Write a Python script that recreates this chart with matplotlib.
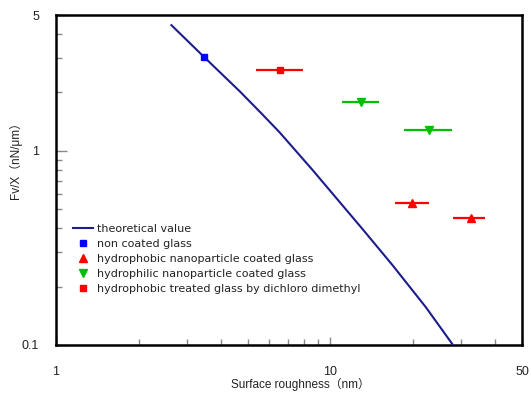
import matplotlib
matplotlib.use("Agg")
import matplotlib.pyplot as plt
from matplotlib.ticker import FixedLocator, NullFormatter

plt.rcParams['font.family'] = ['Liberation Sans', 'Noto Sans CJK JP', 'DejaVu Sans']

# theoretical curve
theory_x = [2.635, 3.462, 4.669, 5.598, 6.524, 8.623, 10.78, 13.11, 16.85, 22.28, 28.02]
theory_y = [4.436, 3.047, 2.029, 1.563, 1.248, 0.796, 0.548, 0.3954, 0.258, 0.1569, 0.1]

# measured points: centre, error bar ends
non_x, non_y = [3.46], [3.03]

phob_x = [19.9, 32.5]
phob_y = [0.540, 0.449]
phob_lo = [17.2, 28.0]
phob_hi = [22.9, 36.6]

phil_x = [12.93, 22.9]
phil_y = [1.775, 1.278]
phil_lo = [10.99, 18.6]
phil_hi = [15.11, 27.9]

dmd_x = [6.58]
dmd_y = [2.60]
dmd_lo = [5.34]
dmd_hi = [7.98]

fig = plt.figure(figsize=(5.31, 3.97), dpi=100)
ax = fig.add_axes([0.1055, 0.131, 0.8775, 0.831])

ax.plot(theory_x, theory_y, color='#1c1c8a', lw=1.5, label='theoretical value', zorder=3)

# error bars
ax.hlines(phob_y, phob_lo, phob_hi, color='#ff0000', lw=1.6, zorder=2)
ax.hlines(phil_y, phil_lo, phil_hi, color='#00c000', lw=1.6, zorder=2)
ax.hlines(dmd_y, dmd_lo, dmd_hi, color='#ff0000', lw=1.6, zorder=2)

ax.plot(non_x, non_y, 's', color='#0000ff', ms=4.5, ls='none', label='non coated glass', zorder=4)
ax.plot(phob_x, phob_y, '^', color='#ff0000', ms=5.5, ls='none',
        label='hydrophobic nanoparticle coated glass', zorder=4)
ax.plot(phil_x, phil_y, 'v', color='#00c000', ms=5.5, ls='none',
        label='hydrophilic nanoparticle coated glass', zorder=4)
ax.plot(dmd_x, dmd_y, 's', color='#ff0000', ms=4.5, ls='none',
        label='hydrophobic treated glass by dichloro dimethyl', zorder=4)

ax.set_xscale('log')
ax.set_yscale('log')
ax.set_xlim(1, 50)
ax.set_ylim(0.1, 5)

ax.xaxis.set_major_locator(FixedLocator([1, 10, 50]))
ax.xaxis.set_minor_locator(FixedLocator([2, 3, 4, 5, 6, 7, 8, 9, 20, 30, 40]))
ax.yaxis.set_major_locator(FixedLocator([0.1, 1, 5]))
ax.yaxis.set_minor_locator(FixedLocator([0.2, 0.3, 0.4, 0.5, 0.6, 0.7, 0.8, 0.9, 2, 3, 4]))
ax.set_xticklabels(['1', '10', '50'])
ax.set_yticklabels(['0.1', '1', '5'])
ax.xaxis.set_minor_formatter(NullFormatter())
ax.yaxis.set_minor_formatter(NullFormatter())

ax.tick_params(which='both', direction='in', color='#888888', labelsize=9, labelcolor='#222222')
ax.tick_params(which='major', length=6, width=1)
ax.tick_params(which='minor', length=4, width=1)
ax.tick_params(axis='x', which='major', pad=15)
ax.tick_params(axis='y', which='major', length=8, pad=12)

for s in ax.spines.values():
    s.set_linewidth(1.8)
    s.set_color('black')

ax.set_xlabel('Surface roughness（nm）', fontsize=8.5, color='#222222')
ax.set_ylabel('Fv/X（nN/μm）', fontsize=8.5, color='#222222')
ax.xaxis.set_label_coords(0.524, -0.1)
ax.yaxis.set_label_coords(-0.073, 0.567)

leg = ax.legend(loc='upper left', bbox_to_anchor=(0.02, 0.39), frameon=False,
                prop={'family': 'DejaVu Sans', 'size': 8},
                handlelength=1.8, handletextpad=0.35, labelspacing=0.45, borderpad=0.2)
for t in leg.get_texts():
    t.set_color('#222222')

fig.savefig('out.png', dpi=100)
